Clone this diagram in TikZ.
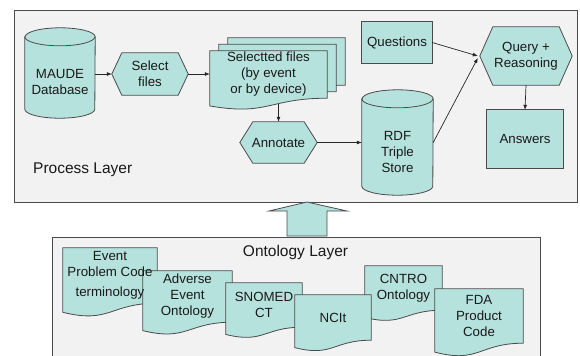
\documentclass[tikz,border=0pt]{standalone}
\usepackage{fontspec}
\setmainfont{Liberation Sans}
\usetikzlibrary{calc,arrows.meta}
\pgfdeclarelayer{bglayer}
\pgfdeclarelayer{shapelayer}
\pgfsetlayers{bglayer,shapelayer,main}
\definecolor{shapefill}{RGB}{182,226,222}
\definecolor{linegray}{RGB}{75,75,75}
\definecolor{panelfill}{RGB}{242,242,242}
\definecolor{textcol}{RGB}{25,25,25}
\newcommand{\hexshape}[2]{%
  \begin{pgfonlayer}{shapelayer}
  \path[shp] (#1.west) -- ($(#1.north west)+(#2,0)$) -- ($(#1.north east)+(-#2,0)$) -- (#1.east)
     -- ($(#1.south east)+(-#2,0)$) -- ($(#1.south west)+(#2,0)$) -- cycle;
  \end{pgfonlayer}}
\newcommand{\docshape}[2]{%
  \begin{pgfonlayer}{shapelayer}
  \path[shp] (#1.north west) -- (#1.north east) -- (#1.south east)
     .. controls (#1.south) and ($(#1.south)+(0,0.38*#2)$) .. ($(#1.south west)+(0,0.165*#2)$) -- cycle;
  \end{pgfonlayer}}
\newcommand{\cylshape}[2]{%
  \begin{pgfonlayer}{shapelayer}
  \path[shp] ($(#1.north west)+(0,-9)$) -- ($(#1.south west)+(0,-9)$)
     arc[start angle=180,end angle=0,x radius=#2,y radius=9]
     -- ($(#1.north east)+(0,-9)$)
     arc[start angle=0,end angle=-180,x radius=#2,y radius=9] -- cycle;
  \draw[draw=linegray,line width=0.8bp] ($(#1.north west)+(0,-9)$)
     arc[start angle=180,end angle=0,x radius=#2,y radius=9];
  \end{pgfonlayer}}
\begin{document}
\begin{tikzpicture}[x=1bp,y=-1bp,
  shp/.style={fill=shapefill,draw=linegray,line width=0.8bp},
  txt/.style={inner sep=0pt,align=center,font=\fontsize{13.3bp}{16bp}\selectfont,text=textcol},
  lbl/.style={inner sep=0pt,font=\fontsize{15.5bp}{18bp}\selectfont,text=textcol},
  arr/.style={draw=black!85,line width=0.7bp,-{Latex[length=5bp,width=4bp]}},
  panel/.style={fill=panelfill,draw=linegray,line width=0.9bp}]
\useasboundingbox (0,0) rectangle (580,355);

% panels
\begin{pgfonlayer}{bglayer}
\path[panel] (14,10) rectangle (577,202);
\path[panel] (52,237) rectangle (540,358);
\path[shp] (307,202) -- (347,211) -- (327,211) -- (327,236) -- (287,236) -- (287,211) -- (269,211) -- cycle;
\end{pgfonlayer}

\node[lbl,anchor=west] (plabel) at (33,170) {Process Layer};
\node[lbl] (olabel) at (295.5,252) {Ontology Layer};

% process layer nodes
\node[txt,minimum width=70bp,minimum height=72bp] (maude) at (60,82) {MAUDE\\Database};
\cylshape{maude}{35}
\node[txt,minimum width=76bp,minimum height=42bp] (select) at (150,74) {Select\\files};
\hexshape{select}{10}
\node[txt,minimum width=117bp,minimum height=47bp] (files3) at (286.5,61.5) {};
\docshape{files3}{47}
\node[txt,minimum width=117bp,minimum height=47bp] (files2) at (277.5,68) {};
\docshape{files2}{47}
\node[txt,minimum width=117bp,minimum height=47bp] (files) at (268.5,74.5) {Selectted files\\(by event\\or by device)};
\docshape{files}{47}
\node[txt,minimum width=77bp,minimum height=41bp] (annot) at (278.5,142.5) {Annotate};
\hexshape{annot}{13}
\node[txt,minimum width=71bp,minimum height=87bp] (rdf) at (397.5,151.5) {RDF\\Triple\\Store};
\cylshape{rdf}{35.5}
\node[txt,minimum width=70bp,minimum height=41bp] (questions) at (397,42.5) {Questions};
\begin{pgfonlayer}{shapelayer}\path[shp] (questions.north west) rectangle (questions.south east);\end{pgfonlayer}
\node[txt,minimum width=92bp,minimum height=58bp] (query) at (526,56) {Query +\\Reasoning};
\hexshape{query}{13}
\node[txt,minimum width=76bp,minimum height=58bp] (answers) at (525,139) {Answers};
\begin{pgfonlayer}{shapelayer}\path[shp] (answers.north west) rectangle (answers.south east);\end{pgfonlayer}

% connectors
\draw[arr] (select.west -| maude.east) -- (select.west);
\draw[arr] (select.east) -- (files.west |- select.east);
\path (annot.north |- files.south) ++(0,6) coordinate (fbot);
\draw[arr] (fbot) -- (annot.north);
\draw[arr] (annot.east) -- (rdf.west |- annot.east);
\draw[arr] (questions.east) -- ([xshift=-2bp]query.west);
\draw[arr] ([yshift=9bp]rdf.east) -- ([xshift=-2bp,yshift=-2bp]query.west);
\draw[arr] (query.south) -- (answers.north);

% ontology layer documents
\node[txt,minimum width=94bp,minimum height=55bp] (epc) at (110,275.5) {Event\\Problem Code\\[4bp]terminology};
\docshape{epc}{55}
\node[txt,minimum width=89bp,minimum height=51bp] (aeo) at (187.5,296.5) {Adverse\\Event\\Ontology};
\docshape{aeo}{51}
\node[txt,minimum width=76bp,minimum height=44bp] (snomed) at (264,305) {SNOMED\\CT};
\docshape{snomed}{44}
\node[txt,minimum width=77bp,minimum height=44bp] (cntro) at (403.5,288) {CNTRO\\Ontology};
\docshape{cntro}{44}
\node[txt,minimum width=76bp,minimum height=45bp] (ncit) at (333,317.5) {NCIt};
\docshape{ncit}{45}
\node[txt,minimum width=88bp,minimum height=54bp] (fda) at (479,316) {FDA\\Product\\Code};
\docshape{fda}{54}
\end{tikzpicture}
\end{document}
